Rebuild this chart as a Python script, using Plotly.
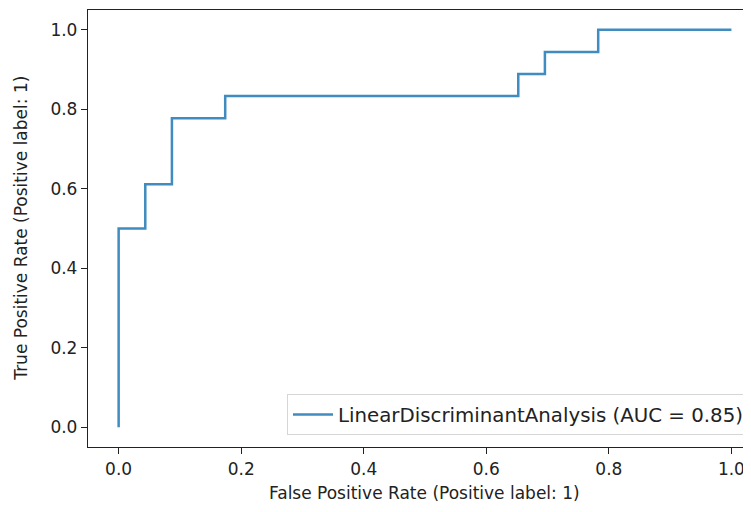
import plotly.graph_objects as go

# ROC curve data (FPR, TPR)
fpr = [0.0, 0.0, 1/23, 1/23, 2/23, 2/23, 4/23, 4/23, 15/23, 15/23, 16/23, 16/23, 18/23, 18/23, 1.0]
tpr = [0.0, 9/18, 9/18, 11/18, 11/18, 14/18, 14/18, 15/18, 15/18, 16/18, 16/18, 17/18, 17/18, 1.0, 1.0]
series_name = "LinearDiscriminantAnalysis (AUC = 0.85)"
tick_vals = [0.0, 0.2, 0.4, 0.6, 0.8, 1.0]
tick_text = ["0.0", "0.2", "0.4", "0.6", "0.8", "1.0"]
x_title = "False Positive Rate (Positive label: 1)"
y_title = "True Positive Rate (Positive label: 1)"

OFF = 8  # default body margin of the page
W, H = 751 - OFF, 512 - OFF
# page-coordinate geometry of the axes box
PL, PT, PB = 88.4, 9.6, 447
L, T = PL - OFF, PT - OFF
B = 512 - PB
plot_w = 751 - PL
plot_h = PB - PT
px_per_unit = 612.4
x_max = -0.05 + plot_w / px_per_unit

font = "DejaVu Sans"
FS = 17
fig = go.Figure()
fig.add_trace(go.Scatter(x=fpr, y=tpr, mode="lines", name=series_name,
                         line=dict(color="#1f77b4", width=2.5), opacity=0.85))

axis_common = dict(showgrid=False, zeroline=False, showline=True, linecolor="#222",
                   linewidth=1.3, ticks="outside", ticklen=6, tickwidth=1.3, tickcolor="#222",
                   tickvals=tick_vals, ticktext=tick_text,
                   tickfont=dict(family=font, size=FS, color="#222"))
fig.update_xaxes(range=[-0.05, x_max], mirror=True, **axis_common)
fig.update_yaxes(range=[-0.05, 1.05], mirror=False, **axis_common)

fig.update_layout(
    width=W, height=H,
    margin=dict(l=L, r=0, t=T, b=B, pad=0),
    plot_bgcolor="white", paper_bgcolor="white",
    font=dict(family=font, size=FS, color="#222"),
    showlegend=True,
    legend=dict(x=(749 - PL) / plot_w, y=(PB - 435) / plot_h, xanchor="right", yanchor="bottom",
                bgcolor="white", bordercolor="#d6d6d6", borderwidth=1, itemwidth=40,
                font=dict(family=font, size=19.8, color="#222")),
    annotations=[
        dict(text=x_title, xref="paper", yref="paper", x=(425 - PL) / plot_w, y=-(493 - PB) / plot_h,
             xanchor="center", yanchor="middle", showarrow=False, font=dict(family=font, size=FS, color="#222")),
        dict(text=y_title, xref="paper", yref="paper", x=-(PL - 22) / plot_w, y=(PB - 228) / plot_h,
             xanchor="center", yanchor="middle", textangle=-90, showarrow=False,
             font=dict(family=font, size=FS, color="#222")),
    ],
)
fig.write_html("out.html")
